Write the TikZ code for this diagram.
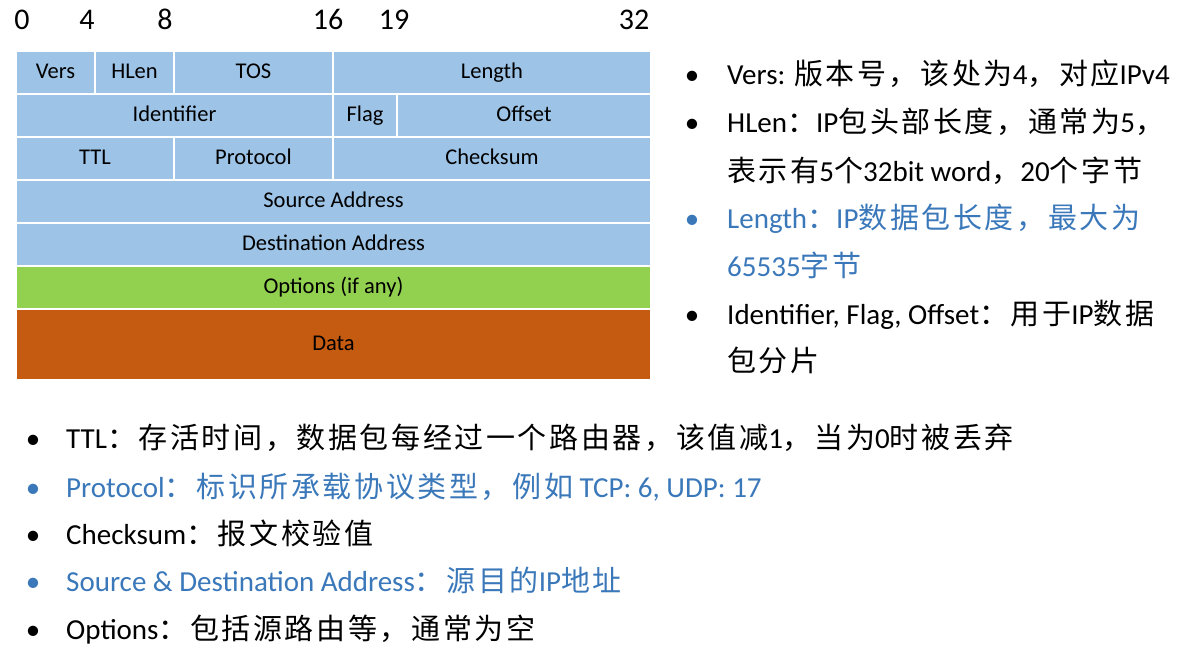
\documentclass[tikz,border=0pt]{standalone}
\usepackage{fontspec}
\setmainfont{Carlito}
\newfontfamily\zhfont{Noto Sans CJK SC}[LetterSpace=9]
\newcommand\zh[1]{{\zhfont #1}}
\definecolor{ipblue}{HTML}{9DC3E6}
\definecolor{ipgreen}{HTML}{92D050}
\definecolor{iporange}{HTML}{C55A11}
\definecolor{noteblue}{HTML}{3A78BA}
\tikzset{
  cellframe/.style={draw=white, line width=1.6pt},
  celltext/.style={inner sep=0pt, text height=.644em, text depth=0pt, font=\fontsize{22.5}{27}\selectfont},
  bitnum/.style={anchor=base, inner sep=0pt, font=\fontsize{30}{35}\selectfont},
  dot/.style={anchor=base, inner sep=0pt, font=\fontsize{29}{34}\selectfont},
  note/.style={anchor=base west, inner sep=0pt, font=\fontsize{29}{34}\selectfont},
}
% one field of the header: x1, y1, x2, y2, fill, name, label
\newcommand\ipcell[7]{%
  \path[cellframe, fill=#5] (#1,#2) rectangle (#3,#4);
  \node[celltext] (#6) at ({(#1+#3)/2},{(#2+#4)/2+2.5}) {#7};}
\begin{document}
\begin{tikzpicture}[x=1pt, y=-1pt]
\useasboundingbox (0,0) rectangle (1178,650);

% bit positions
\node[bitnum] (b0)  at (22,29.5)  {0};
\node[bitnum] (b4)  at (87,29.5)  {4};
\node[bitnum] (b8)  at (165,29.5) {8};
\node[bitnum] (b16) at (328,29.5) {16};
\node[bitnum] (b19) at (394,29.5) {19};
\node[bitnum] (b32) at (634,29.5) {32};

% header layout
\ipcell{16}{51}{95}{94}{ipblue}{vers}{Vers}
\ipcell{95}{51}{174}{94}{ipblue}{hlen}{HLen}
\ipcell{174}{51}{333}{94}{ipblue}{tos}{TOS}
\ipcell{333}{51}{651}{94}{ipblue}{len}{Length}
\ipcell{16}{94}{333}{137}{ipblue}{ident}{Identifier}
\ipcell{333}{94}{397}{137}{ipblue}{flag}{Flag}
\ipcell{397}{94}{651}{137}{ipblue}{offset}{Offset}
\ipcell{16}{137}{174}{180}{ipblue}{ttl}{TTL}
\ipcell{174}{137}{333}{180}{ipblue}{proto}{Protocol}
\ipcell{333}{137}{651}{180}{ipblue}{csum}{Checksum}
\ipcell{16}{180}{651}{223}{ipblue}{src}{Source Address}
\ipcell{16}{223}{651}{266}{ipblue}{dst}{Destination Address}
\ipcell{16}{266}{651}{309}{ipgreen}{opts}{Options (if any)}
\ipcell{16}{309}{651}{380}{iporange}{data}{Data}

% notes on the right
\node[dot] (d1) at (692,85) {\textbullet};
\node[note] (n1) at (727,85) {Vers: \zh{版本号，该处为}4\zh{，对应}IPv4};
\node[dot] (d2) at (692,133) {\textbullet};
\node[note] (n2) at (727,133) {HLen\zh{：}IP\zh{包头部长度，通常为}5\zh{，}};
\node[note] (n2b) at (727,181) {\zh{表示有}5\zh{个}32bit word\zh{，}20\zh{个字节}};
\node[dot, text=noteblue] (d3) at (692,228) {\textbullet};
\node[note, text=noteblue] (n3) at (727,228) {Length\zh{：}IP\zh{数据包长度，最大为}};
\node[note, text=noteblue] (n3b) at (727,276) {65535\zh{字节}};
\node[dot] (d4) at (692,324) {\textbullet};
\node[note] (n4) at (727,324) {Identifier, Flag, Offset\zh{：用于}IP\zh{数据}};
\node[note] (n4b) at (727,371) {\zh{包分片}};

% notes below
\node[dot] (d5) at (33,448) {\textbullet};
\node[note] (n5) at (66,448) {TTL\zh{：存活时间，数据包每经过一个路由器，该值减}1\zh{，当为}0\zh{时被丢弃}};
\node[dot, text=noteblue] (d6) at (33,497) {\textbullet};
\node[note, text=noteblue] (n6) at (66,497) {Protocol\zh{：标识所承载协议类型，例如} TCP: 6, UDP: 17};
\node[dot] (d7) at (33,544) {\textbullet};
\node[note] (n7) at (66,544) {Checksum\zh{：报文校验值}};
\node[dot, text=noteblue] (d8) at (33,591) {\textbullet};
\node[note, text=noteblue] (n8) at (66,591) {Source \& Destination Address\zh{：源目的}IP\zh{地址}};
\node[dot] (d9) at (33,639) {\textbullet};
\node[note] (n9) at (66,639) {Options\zh{：包括源路由等，通常为空}};
\end{tikzpicture}
\end{document}
